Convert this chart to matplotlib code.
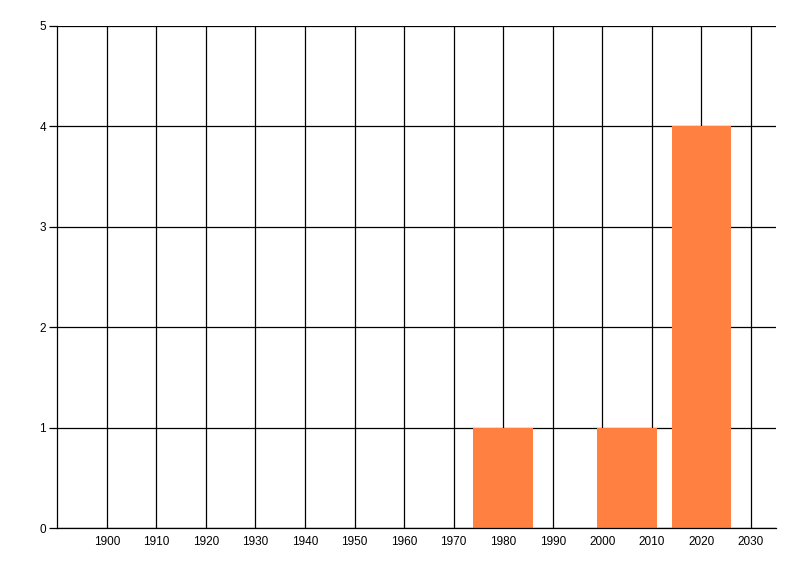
import numpy as np
from matplotlib import pyplot as plt

plt.rcParams['font.family'] = ['Liberation Sans', 'DejaVu Sans']

### Data ###
bar_years = [1980, 2005, 2020]
bar_counts = [1, 1, 4]
bar_width = 12
x_ticks = list(range(1900, 2031, 10))
y_ticks = [0, 1, 2, 3, 4, 5]

fig = plt.figure(figsize=(8, 5.76), dpi=100)
ax = fig.add_axes([0.0716, 0.0828, 0.8980, 0.8721])

ax.bar(bar_years, bar_counts, width=bar_width, color='#FF8040', zorder=3)

ax.set_xlim(1890, 2035)
ax.set_ylim(0, 5)
ax.set_xticks(x_ticks)
ax.set_yticks(y_ticks)
ax.grid(True, color='black', linewidth=0.9, zorder=1)
ax.set_axisbelow(True)

for side in ['top', 'right']:
    ax.spines[side].set_visible(False)
for side in ['left', 'bottom']:
    ax.spines[side].set_linewidth(0.9)
    ax.spines[side].set_zorder(4)

ax.tick_params(axis='x', length=0, pad=5.5, labelsize=8.5)
ax.tick_params(axis='y', length=6, width=0.9, pad=2, labelsize=8.5)

fig.savefig('out.png', dpi=100)
